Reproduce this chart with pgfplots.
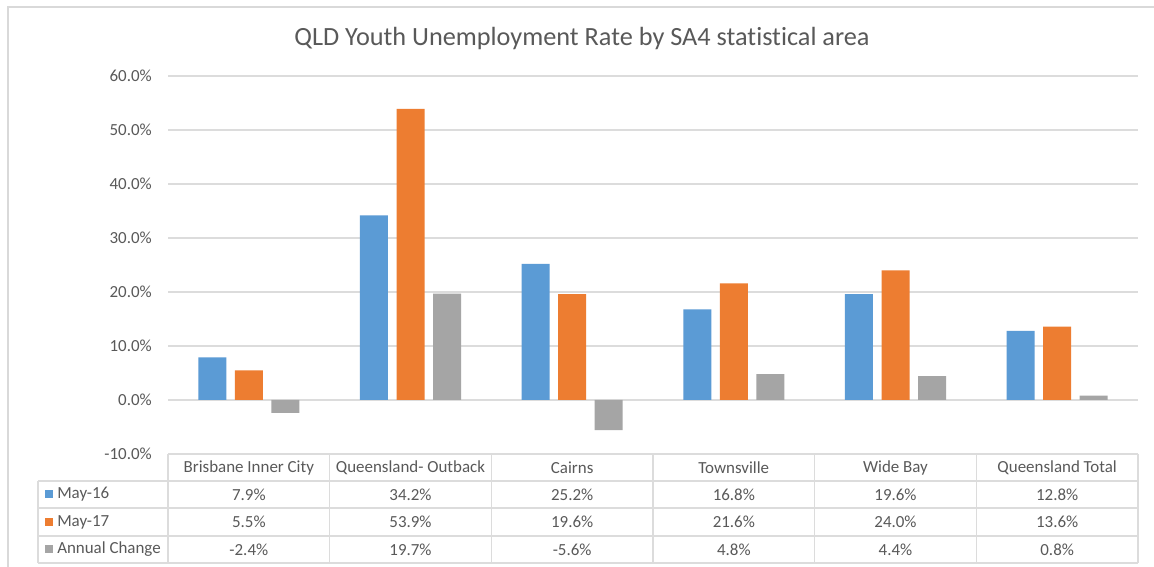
\documentclass[border=0pt]{standalone}
\usepackage{pgfplots}
\pgfplotsset{compat=1.18}
\usepackage{fontspec}
\setmainfont[Ligatures=NoCommon]{Carlito}
\definecolor{cblue}{HTML}{5B9BD5}
\definecolor{corange}{HTML}{ED7D31}
\definecolor{cgray}{HTML}{A5A5A5}
\definecolor{txt}{HTML}{595959}
\definecolor{grid}{HTML}{DCDCDC}
\definecolor{frame}{HTML}{D9D9D9}
\begin{document}
\begin{tikzpicture}
\useasboundingbox (0,0) rectangle (865.5pt,425.25pt);
\fill[white] (0,0) rectangle (865.5pt,425.25pt);
\begin{axis}[
  at={(126pt,84.75pt)}, anchor=south west,
  scale only axis, width=727.5pt, height=283.5pt,
  xmin=-0.5, xmax=5.5, ymin=-10, ymax=60,
  ytick={-10,0,10,20,30,40,50,60},
  xtick=\empty,
  ymajorgrids, major grid style={draw=grid, line width=0.8pt},
  axis line style={draw=none},
  major tick length=0pt,
  ybar=6.4pt, bar width=21pt,
  /pgf/number format/assume math mode=true,
  yticklabel={\pgfmathprintnumber[fixed,fixed zerofill,precision=1]{\tick}\%},
  yticklabel style={inner sep=0pt, xshift=-12pt, font=\fontsize{12.7}{15}\selectfont, text=txt},
  clip=false,
]
\addplot[fill=cblue, draw=none] coordinates {(0,7.9) (1,34.2) (2,25.2) (3,16.8) (4,19.6) (5,12.8)};
\addplot[fill=corange, draw=none] coordinates {(0,5.5) (1,53.9) (2,19.6) (3,21.6) (4,24.0) (5,13.6)};
\addplot[fill=cgray, draw=none] coordinates {(0,-2.4) (1,19.7) (2,-5.6) (3,4.8) (4,4.4) (5,0.8)};
\end{axis}
\begin{scope}[x=0.75pt, y=-0.75pt, yshift=425.25pt]
  % outer frame
  \draw[frame, line width=0.9pt] (8,567) -- (8,7) -- (1154,7);
  % title
  \node[text=txt, font=\fontsize{19.7}{23}\selectfont] at (582,39) {QLD Youth Unemployment Rate by SA4 statistical area};
  % table lines
  \begin{scope}[draw=grid, line width=0.8pt]
    \foreach \yy in {481,508,536,563} \draw (38,\yy) -- (1138,\yy);
    \draw (38,481) -- (38,563);
    \foreach \k in {0,...,6} \draw ({168+161.667*\k},454) -- ({168+161.667*\k},563);
  \end{scope}
  \begin{scope}[font=\fontsize{12.7}{15}\selectfont, text=txt]
    \foreach \name [count=\i from 0] in {Brisbane Inner City,Queensland- Outback,Cairns,Townsville,Wide Bay,Queensland Total}
      \node at ({168+161.667*(\i+0.5)},467.5) {\name};
    \foreach \v [count=\i from 0] in {7.9,34.2,25.2,16.8,19.6,12.8}
      \node at ({168+161.667*(\i+0.5)},494.5) {\v\%};
    \foreach \v [count=\i from 0] in {5.5,53.9,19.6,21.6,24.0,13.6}
      \node at ({168+161.667*(\i+0.5)},522) {\v\%};
    \foreach \v [count=\i from 0] in {-2.4,19.7,-5.6,4.8,4.4,0.8}
      \node at ({168+161.667*(\i+0.5)},549.5) {\v\%};
    \fill[cblue] (45,490.5) rectangle (53,498.5);
    \fill[corange] (45,518) rectangle (53,526);
    \fill[cgray] (45,545.5) rectangle (53,553.5);
    \node[anchor=west, inner sep=0pt] at (57,494.5) {May-16};
    \node[anchor=west, inner sep=0pt] at (57,522) {May-17};
    \node[anchor=west, inner sep=0pt] at (57,549.5) {Annual Change};
  \end{scope}
\end{scope}
\end{tikzpicture}
\end{document}
